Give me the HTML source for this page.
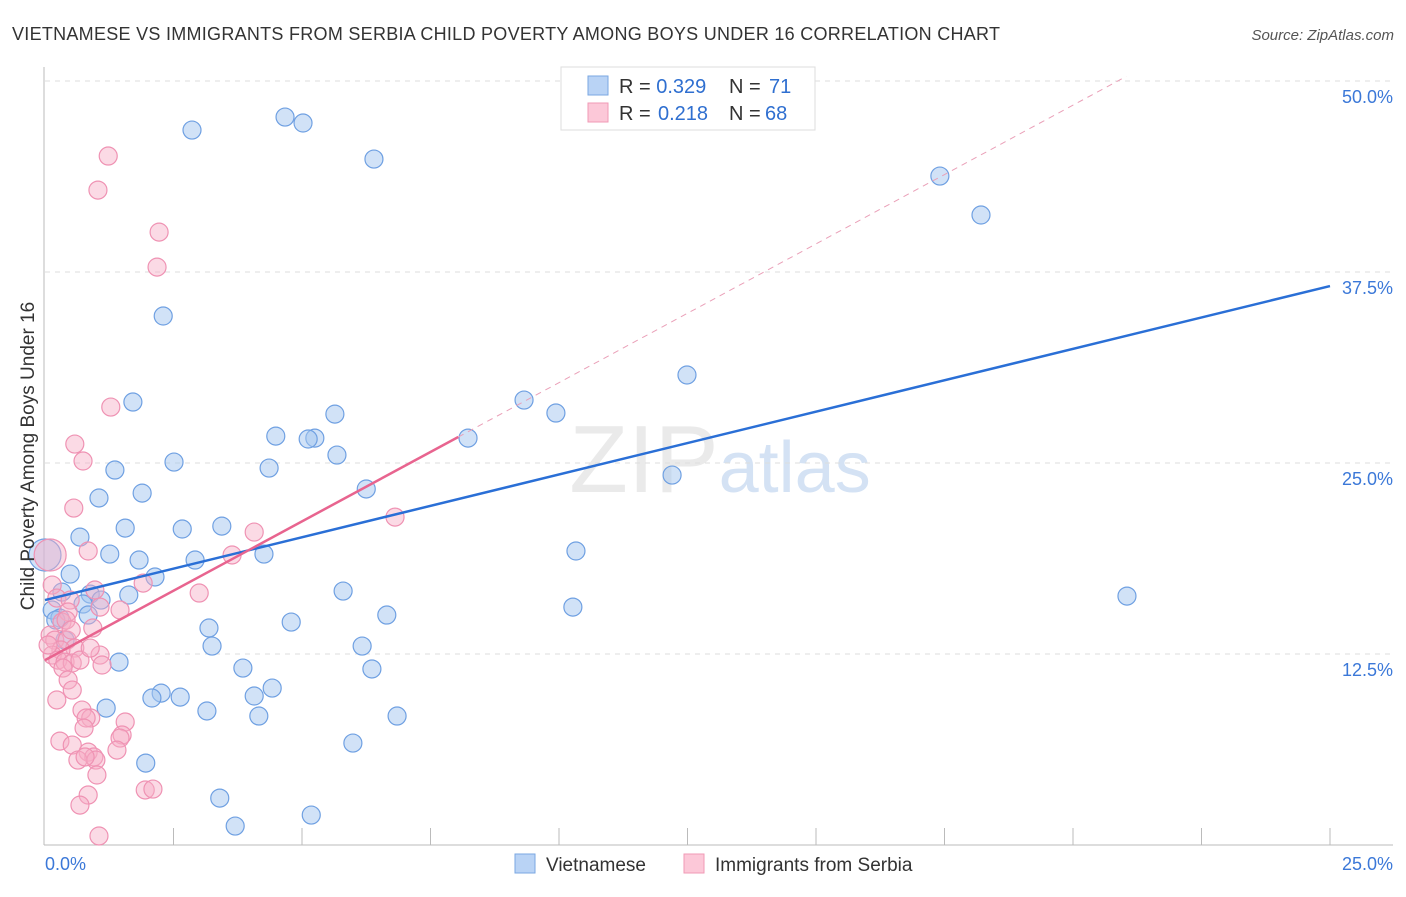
<!DOCTYPE html>
<html><head><meta charset="utf-8"><style>
body{margin:0;background:#fff;font-family:"Liberation Sans",sans-serif;}
svg text{font-family:"Liberation Sans",sans-serif;}
</style></head><body>
<svg id="chart" width="1406" height="892" viewBox="0 0 1406 892">
<text x="12" y="40" font-size="18" fill="#333" textLength="988" lengthAdjust="spacing">VIETNAMESE VS IMMIGRANTS FROM SERBIA CHILD POVERTY AMONG BOYS UNDER 16 CORRELATION CHART</text>
<text x="1394" y="40" font-size="15" fill="#555" text-anchor="end" font-style="italic">Source: ZipAtlas.com</text>
<text x="720" y="492" font-size="96" fill="#ddd" text-anchor="middle" font-family="Liberation Serif" opacity="0.6">ZIP<tspan fill="#b8d0ee" font-family="Liberation Sans" font-size="72">atlas</tspan></text>
<g id="grid"></g>
<g id="axes"></g>
<g id="marks"></g>
<text transform="translate(34,456) rotate(-90)" font-size="19" fill="#333" text-anchor="middle">Child Poverty Among Boys Under 16</text>
<g>
<rect x="561" y="67" width="254" height="63" fill="#fff" stroke="#ddd"/>
<rect x="588" y="76" width="20" height="19" fill="#b9d3f5" stroke="#7aa7e2"/>
<rect x="588" y="103" width="20" height="19" fill="#fcc8d8" stroke="#f09ab6"/>
<text x="619" y="93" font-size="20" fill="#333">R = <tspan fill="#2f6fd0">0.329</tspan><tspan x="729">N = </tspan><tspan x="769" fill="#2f6fd0">71</tspan></text>
<text x="619" y="120" font-size="20" fill="#333">R = <tspan x="658" fill="#2f6fd0">0.218</tspan><tspan x="729">N = </tspan><tspan x="765" fill="#2f6fd0">68</tspan></text>
</g>
<g>
<rect x="515" y="854" width="20" height="19" fill="#b9d3f5" stroke="#7aa7e2"/>
<text x="546" y="871" font-size="19" fill="#333">Vietnamese</text>
<rect x="684" y="854" width="20" height="19" fill="#fcc8d8" stroke="#f09ab6"/>
<text x="715" y="871" font-size="19" fill="#333">Immigrants from Serbia</text>
</g>
</svg>
<script>
const blueX=[2.86,4.67,5.02,6.40,17.41,18.21,2.30,12.49,1.71,9.32,9.94,5.64,4.49,5.25,5.12,8.23,5.68,2.51,1.36,4.36,12.20,6.25,1.89,1.05,1.56,2.67,3.44,0.68,10.33,1.26,1.83,2.92,4.26,0,0.49,2.14,0.88,1.63,1.09,5.80,0.74,0.14,21.05,10.27,6.65,0.29,0.84,4.79,3.19,6.17,3.25,0.39,1.44,3.85,6.36,4.42,4.07,2.26,2.08,2.63,1.19,3.15,4.16,6.85,5.99,1.96,3.40,3.70,5.18,0.21,0.33];
const blueY=[46.79,47.64,47.25,44.89,43.78,41.23,34.62,30.76,28.99,29.12,28.27,28.20,26.76,26.63,26.57,26.63,25.52,25.06,24.54,24.67,24.21,23.30,23.03,22.71,20.74,20.68,20.87,20.15,19.24,19.04,18.65,18.65,19.04,18.98,17.73,17.54,16.42,16.36,16.03,16.62,15.77,15.38,16.29,15.57,15.05,14.85,15.05,14.59,14.20,13.02,13.02,13.41,11.97,11.58,11.52,10.27,9.75,9.94,9.62,9.68,8.96,8.77,8.44,8.44,6.67,5.36,3.07,1.24,1.96,14.72,16.55];
const blueR=[9,9,9,9,9,9,9,9,9,9,9,9,9,9,9,9,9,9,9,9,9,9,9,9,9,9,9,9,9,9,9,9,9,16,9,9,9,9,9,9,9,9,9,9,9,9,9,9,9,9,9,9,9,9,9,9,9,9,9,9,9,9,9,9,9,9,9,9,9,9,9];
const pinkX=[1.23,1.03,2.22,2.18,1.28,0.58,0.74,0.56,4.07,6.81,3.64,0.84,1.91,3.00,0.10,0.14,0.23,0.49,0.45,0.33,0.93,0.10,0.19,0.43,0.58,0.31,0.14,0.25,0.39,0.53,0.68,1.07,1.11,0.88,0.35,0.45,0.53,0.23,0.72,0.89,0.80,1.56,0.76,1.50,1.46,0.29,0.53,1.40,0.84,0.95,0.99,0.64,0.78,1.01,0.84,0.68,1.95,2.10,1.05,1.07,0.41,0.51,0.06,0.97,1.46];
const pinkY=[45.09,42.86,40.11,37.82,28.66,26.24,25.13,22.05,20.48,21.46,18.98,19.24,17.14,16.49,18.98,17.01,16.16,16.03,15.25,14.59,14.20,13.74,13.41,13.41,12.89,12.76,12.43,12.10,11.97,11.91,12.10,12.43,11.78,12.89,11.58,10.80,10.14,9.49,8.83,8.31,8.31,8.05,7.65,7.20,7.00,6.80,6.54,6.21,6.08,5.76,5.56,5.56,5.76,4.58,3.27,2.61,3.60,3.66,0.59,15.57,14.72,14.07,13.09,16.69,15.38];
const pinkR=[9,9,9,9,9,9,9,9,9,9,9,9,9,9,16,9,9,9,9,9,9,9,9,9,9,9,9,9,9,9,9,9,9,9,9,9,9,9,9,9,9,9,9,9,9,9,9,9,9,9,9,9,9,9,9,9,9,9,9,9,9,9,9,9,9];
const yTicks=[12.5,25,37.5,50];
const yTickLabels=["12.5%","25.0%","37.5%","50.0%"];
const xTicks=[2.5,5,7.5,10,12.5,15,17.5,20,22.5,25];
const blueTrend=[[0,16.03],[25,36.58]];
const pinkTrend=[[0,12.10],[8.04,26.70]];
const pinkSlope=(26.70-12.10)/8.04;

const X0=45,X1=1330,Y0=845,PPY=15.28;
function sx(v){return X0+(X1-X0)*v/25;}
function sy(v){return Y0-v*PPY;}
const NS="http://www.w3.org/2000/svg";
function mk(tag,attrs,parent){const e=document.createElementNS(NS,tag);for(const k in attrs)e.setAttribute(k,attrs[k]);parent.appendChild(e);return e;}
const grid=document.getElementById('grid'),axes=document.getElementById('axes'),marks=document.getElementById('marks');
yTicks.forEach((t,i)=>{
 const l=mk('line',{x1:45,x2:1393,y1:sy(t),y2:sy(t),stroke:'#ddd','stroke-dasharray':'5,5'},grid);
 
 
 const tx=mk('text',{x:1393,y:sy(t)+22,'font-size':18,fill:'#3b78d8','text-anchor':'end'},axes);
 tx.textContent=yTickLabels[i];
 
 
});
const al=mk('line',{x1:44,x2:44,y1:67,y2:845,stroke:'#bbb'},axes);


const bl=mk('line',{x1:44,x2:1393,y1:845,y2:845,stroke:'#bbb'},axes);


xTicks.forEach(t=>{
 const l=mk('line',{x1:sx(t),x2:sx(t),y1:828,y2:845,stroke:'#bbb'},axes);
 
 
});
const xl0=mk('text',{x:45,y:870,'font-size':18,fill:'#3b78d8'},axes);xl0.textContent='0.0%';


const xl1=mk('text',{x:1393,y:870,'font-size':18,fill:'#3b78d8','text-anchor':'end'},axes);xl1.textContent='25.0%';



blueX.forEach((x,i)=>{
 const c=mk('circle',{cx:sx(x),cy:sy(blueY[i]),r:blueR[i],fill:'rgba(164,198,240,0.5)',stroke:'#6fa0e2','stroke-width':1.2},marks);
 
 
});
pinkX.forEach((x,i)=>{
 const c=mk('circle',{cx:sx(x),cy:sy(pinkY[i]),r:pinkR[i],fill:'rgba(246,172,198,0.45)',stroke:'#ef92b3','stroke-width':1.2},marks);
 
 
});
const topV=50.3;
const xEnd=pinkTrend[1][0]+(topV-pinkTrend[1][1])/pinkSlope;
const pd=mk('line',{x1:sx(pinkTrend[1][0]),y1:sy(pinkTrend[1][1]),x2:sx(xEnd),y2:sy(topV),stroke:'#eaa0b8','stroke-width':1,'stroke-dasharray':'6,5'},marks);


const bt=mk('line',{x1:sx(blueTrend[0][0]),y1:sy(blueTrend[0][1]),x2:sx(blueTrend[1][0]),y2:sy(blueTrend[1][1]),stroke:'#2a6fd6','stroke-width':2.5},marks);


const pt=mk('line',{x1:sx(pinkTrend[0][0]),y1:sy(pinkTrend[0][1]),x2:sx(pinkTrend[1][0]),y2:sy(pinkTrend[1][1]),stroke:'#e8648f','stroke-width':2.5},marks);


</script>
</body></html>
